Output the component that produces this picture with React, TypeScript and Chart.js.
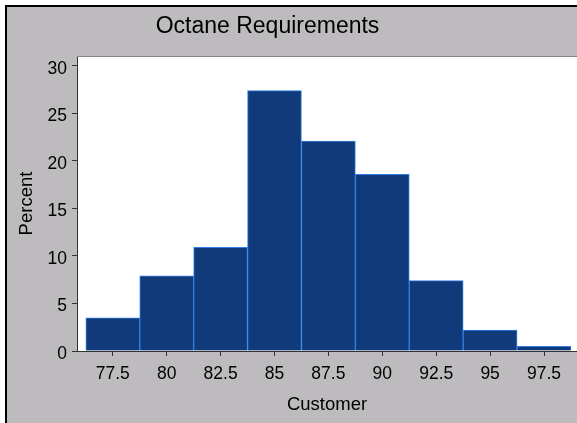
import React, { useEffect, useRef } from "react";
import { Chart, registerables } from "chart.js";

Chart.register(...registerables);

const TITLE = "Octane Requirements";
const X_LABEL = "Customer";
const Y_LABEL = "Percent";
const binMidpoints = [77.5, 80, 82.5, 85, 87.5, 90, 92.5, 95, 97.5];
const percents = [3.5, 7.9, 10.9, 27.4, 22.1, 18.6, 7.4, 2.2, 0.5];
const xTicks = [77.5, 80, 82.5, 85, 87.5, 90, 92.5, 95, 97.5];
const yTicks = [0, 5, 10, 15, 20, 25, 30];
const X_MIN = 75.84;
const X_MAX = 99.03;
const Y_MIN = 0;
const Y_MAX = 31.05;

const FONT = '"Liberation Sans", Arial, Helvetica, sans-serif';
const W = 577;
const H = 423;

const framePlugin = {
  id: "frame",
  beforeDraw(chart: any) {
    const { ctx, width, height, chartArea: a } = chart;
    ctx.save();
    ctx.fillStyle = "#ffffff";
    ctx.fillRect(0, 0, width, height);
    ctx.fillStyle = "#000000";
    ctx.fillRect(5, 5, width - 5, height - 5);
    ctx.fillStyle = "#bdbbbe";
    ctx.fillRect(7, 7, width - 7, height - 7);
    ctx.fillStyle = "#ffffff";
    ctx.fillRect(a.left, a.top, width - a.left, a.bottom - a.top);
    ctx.restore();
  },
  afterDraw(chart: any) {
    const { ctx, width, chartArea: a } = chart;
    ctx.save();
    ctx.strokeStyle = "#858585";
    ctx.lineWidth = 1;
    ctx.beginPath();
    ctx.moveTo(a.left, a.top + 0.5);
    ctx.lineTo(width, a.top + 0.5);
    ctx.stroke();
    ctx.fillStyle = "#000000";
    ctx.font = `23px ${FONT}`;
    ctx.textAlign = "center";
    ctx.textBaseline = "middle";
    ctx.fillText(TITLE, 267.5, 27);
    ctx.restore();
  },
};

export default function App() {
  const ref = useRef<HTMLCanvasElement | null>(null);

  useEffect(() => {
    if (!ref.current) return;
    const chart = new Chart(ref.current, {
      type: "bar",
      data: {
        datasets: [
          {
            data: binMidpoints.map((x, i) => ({ x, y: percents[i] })),
            backgroundColor: "rgb(16,58,122)",
            borderColor: "rgb(50,128,228)",
            borderWidth: 1,
            barPercentage: 1,
            categoryPercentage: 1,
          },
        ],
      },
      options: {
        responsive: false,
        animation: false,
        devicePixelRatio: 1,
        layout: { padding: { top: 56, left: 0, right: 0, bottom: 0 } },
        plugins: {
          legend: { display: false },
          tooltip: { enabled: false },
          title: { display: false },
        },
        scales: {
          x: {
            type: "linear",
            min: X_MIN,
            max: X_MAX,
            offset: false,
            grid: {
              offset: false,
              drawOnChartArea: false,
              drawTicks: true,
              tickLength: 5,
              tickColor: "#333333",
            },
            border: { display: true, color: "#333333", width: 1 },
            ticks: {
              color: "#000000",
              font: { family: FONT, size: 17.5 },
              padding: 8,
              maxRotation: 0,
              autoSkip: false,
              callback: (v: any) => String(v),
            },
            afterBuildTicks: (axis: any) => {
              axis.ticks = xTicks.map((v) => ({ value: v }));
            },
            afterFit: (axis: any) => {
              axis.height = 72;
              axis.paddingRight = 0;
              axis.paddingLeft = 0;
            },
            title: {
              display: true,
              text: X_LABEL,
              color: "#000000",
              font: { family: FONT, size: 18.5 },
              padding: { top: 0, bottom: 7 },
            },
          },
          y: {
            type: "linear",
            min: Y_MIN,
            max: Y_MAX,
            grid: {
              drawOnChartArea: false,
              drawTicks: true,
              tickLength: 5,
              tickColor: "#333333",
            },
            border: { display: true, color: "#333333", width: 1 },
            ticks: {
              color: "#000000",
              font: { family: FONT, size: 17.5 },
              padding: 5,
              labelOffset: 3,
              autoSkip: false,
              callback: (v: any) => String(v),
            },
            afterBuildTicks: (axis: any) => {
              axis.ticks = yTicks.map((v) => ({ value: v }));
            },
            afterFit: (axis: any) => {
              axis.width = 77;
              axis.paddingTop = 0;
              axis.paddingBottom = 0;
            },
            title: {
              display: true,
              text: Y_LABEL,
              color: "#000000",
              font: { family: FONT, size: 18.5 },
              padding: { top: 16, bottom: 0 },
            },
          },
        },
      },
      plugins: [framePlugin],
    });
    return () => chart.destroy();
  }, []);

  return (
    <div style={{ position: "fixed", left: 0, top: 0, width: W, height: H, background: "#fff" }}>
      <canvas ref={ref} width={W} height={H} style={{ width: W, height: H, display: "block" }} />
    </div>
  );
}
